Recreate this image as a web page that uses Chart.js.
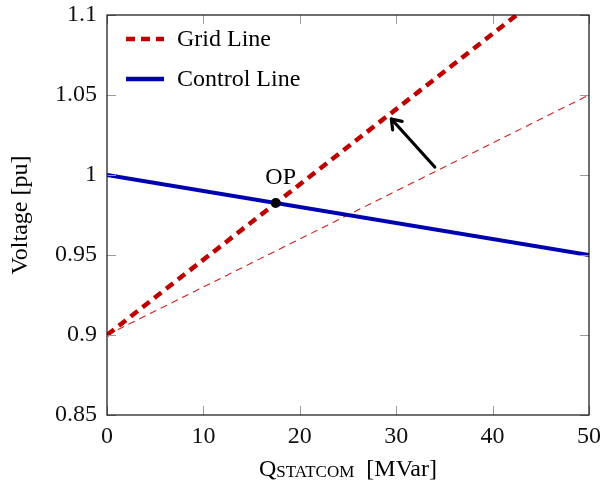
<!DOCTYPE html>
<html>
<head>
<meta charset="utf-8">
<script src="https://cdn.jsdelivr.net/npm/chart.js@4.4.1/dist/chart.umd.min.js"></script>
<style>
html,body{margin:0;padding:0;background:#fff;}
#wrap{width:602px;height:487px;}
</style>
</head>
<body>
<div id="wrap"><canvas id="c" width="602" height="487"></canvas></div>
<script>
// ---- data ----
const gridLineX = [0, 42.5];
const gridLineY = [0.9, 1.1];
const oldGridLineX = [0, 50];
const oldGridLineY = [0.9, 1.05];
const controlLineX = [0, 50];
const controlLineY = [1.0, 0.95];
const opX = [17.5];
const opY = [0.9825];
const arrowX = [34, 29.5];
const arrowY = [1.005, 1.035];
const xTickValues = [0, 10, 20, 30, 40, 50];
const yTickValues = [0.85, 0.9, 0.95, 1, 1.05, 1.1];
const legendLabels = ['Grid Line', 'Control Line'];
const opLabel = 'OP';
const xTitleMain = 'Q';
const xTitleSub = 'STATCOM';
const xTitleUnit = '[MVar]';
const yTitle = 'Voltage [pu]';

const RED = '#bf0000';
const BLUE = '#0000b3';
const FONT = '"Liberation Serif", "Times New Roman", serif';

function pts(xs, ys){ return xs.map((x,i)=>({x:x, y:ys[i]})); }

const decor = {
  id: 'decor',
  afterDatasetsDraw(chart){
    const ctx = chart.ctx;
    const a = chart.chartArea;
    const xs = chart.scales.x, ys = chart.scales.y;
    ctx.save();
    // inward ticks
    ctx.strokeStyle = '#9a9a9a';
    ctx.lineWidth = 1;
    const TL = 9;
    xTickValues.forEach(v=>{
      const px = Math.round(xs.getPixelForValue(v)) + 0.5;
      ctx.beginPath();
      ctx.moveTo(px, a.bottom); ctx.lineTo(px, a.bottom - TL);
      ctx.moveTo(px, a.top); ctx.lineTo(px, a.top + TL);
      ctx.stroke();
    });
    yTickValues.forEach(v=>{
      const py = Math.round(ys.getPixelForValue(v)) + 0.5;
      ctx.beginPath();
      ctx.moveTo(a.left, py); ctx.lineTo(a.left + TL, py);
      ctx.moveTo(a.right, py); ctx.lineTo(a.right - TL, py);
      ctx.stroke();
    });
    // frame
    ctx.strokeStyle = '#111';
    ctx.lineWidth = 1.2;
    ctx.strokeRect(a.left, a.top, a.right - a.left, a.bottom - a.top);

    // arrow head
    const tx = xs.getPixelForValue(arrowX[1]), ty = ys.getPixelForValue(arrowY[1]);
    const sx = xs.getPixelForValue(arrowX[0]), sy = ys.getPixelForValue(arrowY[0]);
    const ang = Math.atan2(ty - sy, tx - sx);
    const L = 11, spread = 0.62;
    ctx.strokeStyle = '#000';
    ctx.lineWidth = 3.2;
    ctx.lineCap = 'round';
    ctx.lineJoin = 'round';
    ctx.beginPath();
    ctx.moveTo(tx - L*Math.cos(ang - spread), ty - L*Math.sin(ang - spread));
    ctx.lineTo(tx, ty);
    ctx.lineTo(tx - L*Math.cos(ang + spread), ty - L*Math.sin(ang + spread));
    ctx.stroke();

    // OP label
    ctx.fillStyle = '#000';
    ctx.font = '24px ' + FONT;
    ctx.textAlign = 'center';
    ctx.textBaseline = 'alphabetic';
    ctx.fillText(opLabel, xs.getPixelForValue(opX[0]) + 5, ys.getPixelForValue(opY[0]) - 19);

    // legend
    const lx0 = a.left + 19, lx1 = a.left + 57, ltx = a.left + 70;
    const rows = [a.top + 24, a.top + 64];
    ctx.lineCap = 'butt';
    ctx.setLineDash([9,6]);
    ctx.strokeStyle = RED; ctx.lineWidth = 4.5;
    ctx.beginPath(); ctx.moveTo(lx0, rows[0]); ctx.lineTo(lx1, rows[0]); ctx.stroke();
    ctx.setLineDash([]);
    ctx.strokeStyle = BLUE; ctx.lineWidth = 4.5;
    ctx.beginPath(); ctx.moveTo(lx0, rows[1]); ctx.lineTo(lx1, rows[1]); ctx.stroke();
    ctx.textAlign = 'left';
    ctx.textBaseline = 'middle';
    ctx.fillStyle = '#000';
    ctx.fillText(legendLabels[0], ltx, rows[0] + 1);
    ctx.fillText(legendLabels[1], ltx, rows[1] + 1);

    // y title
    ctx.save();
    ctx.translate(21, (a.top + a.bottom)/2);
    ctx.rotate(-Math.PI/2);
    ctx.textAlign = 'center';
    ctx.textBaseline = 'middle';
    ctx.font = '24px ' + FONT;
    ctx.fillText(yTitle, 0, 0);
    ctx.restore();

    // x title with subscript
    const big = '24px ' + FONT, small = '17px ' + FONT;
    ctx.font = big; const wQ = ctx.measureText(xTitleMain).width;
    ctx.font = small; const wS = ctx.measureText(xTitleSub).width;
    ctx.font = big; const wSp = 12; const wU = ctx.measureText(xTitleUnit).width;
    const total = wQ + wS + wSp + wU;
    let cx = (a.left + a.right)/2 - total/2;
    const base = 476;
    ctx.textAlign = 'left';
    ctx.textBaseline = 'alphabetic';
    ctx.font = big; ctx.fillText(xTitleMain, cx, base); cx += wQ;
    ctx.font = small; ctx.fillText(xTitleSub, cx, base + 1); cx += wS + wSp;
    ctx.font = big; ctx.fillText(xTitleUnit, cx, base);
    ctx.restore();
  }
};

function noPad(s){ s.paddingTop = 0; s.paddingBottom = 0; s.paddingLeft = 0; s.paddingRight = 0; }

new Chart(document.getElementById('c'), {
  type: 'line',
  data: {
    datasets: [
      { label: 'old grid', data: pts(oldGridLineX, oldGridLineY), borderColor: '#d02020', borderWidth: 1.1, borderDash: [7,5], pointRadius: 0, fill: false, order: 4 },
      { label: legendLabels[0], data: pts(gridLineX, gridLineY), borderColor: RED, borderWidth: 4.5, borderDash: [9,6], pointRadius: 0, fill: false, order: 2 },
      { label: legendLabels[1], data: pts(controlLineX, controlLineY), borderColor: BLUE, borderWidth: 4, pointRadius: 0, fill: false, order: 3 },
      { label: 'arrow', data: pts(arrowX, arrowY), borderColor: '#000', borderWidth: 3.2, borderCapStyle: 'round', pointRadius: 0, fill: false, order: 1 },
      { label: opLabel, data: pts(opX, opY), showLine: false, pointRadius: 5, pointBackgroundColor: '#000', pointBorderColor: '#000', borderWidth: 0, order: 0 }
    ]
  },
  options: {
    responsive: false,
    devicePixelRatio: 1,
    animation: false,
    layout: { padding: { left: 0, right: 13, top: 15, bottom: 0 } },
    plugins: { legend: { display: false }, tooltip: { enabled: false } },
    scales: {
      x: {
        type: 'linear', min: 0, max: 50,
        afterBuildTicks: s => { s.ticks = xTickValues.map(v => ({ value: v })); },
        afterFit: s => { s.height = 72; noPad(s); },
        grid: { display: false, drawTicks: false },
        border: { display: false },
        ticks: { padding: 7, color: '#111', font: { family: FONT, size: 24 }, maxRotation: 0, autoSkip: false }
      },
      y: {
        type: 'linear', min: 0.85, max: 1.1,
        afterBuildTicks: s => { s.ticks = yTickValues.map(v => ({ value: v })); },
        afterFit: s => { s.width = 107; noPad(s); },
        grid: { display: false, drawTicks: false },
        border: { display: false },
        ticks: { padding: 10, color: '#111', font: { family: FONT, size: 24 }, autoSkip: false,
          callback: v => String(parseFloat(Number(v).toFixed(2))) }
      }
    }
  },
  plugins: [decor]
});
</script>
</body>
</html>
